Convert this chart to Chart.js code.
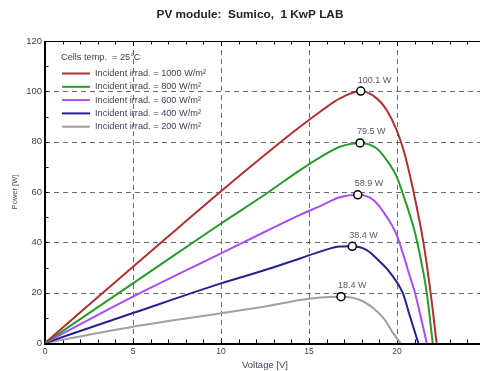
<!DOCTYPE html>
<html>
<head>
<meta charset="utf-8">
<script src="https://cdn.jsdelivr.net/npm/chart.js@4/dist/chart.umd.min.js"></script>
<style>
  html, body { margin: 0; padding: 0; background: #fff; overflow: hidden; }
  #wrap { width: 500px; height: 371px; }
</style>
</head>
<body>
<div id="wrap"><canvas id="chart"></canvas></div>
<script>
// Irradiance levels and their P-V curves (voltage in V, power in W)
const irradiance = [1000, 800, 600, 400, 200];
const lineColors = ["#b03030", "#2a9a2a", "#a64dff", "#23238f", "#a0a0a0"];

const v1000 = [0, 2.5, 5, 7.5, 10, 12.5, 14.49, 15.63, 16.76, 17.94, 18.85, 19.41, 19.98, 20.4, 20.85, 21.5, 21.91, 22.25];
const p1000 = [0, 15.2, 30.3, 45.3, 60.3, 74.8, 85.9, 91.9, 97.2, 100.1, 97.2, 92.6, 84.6, 76, 63, 40, 20, 0];

const v800 = [0, 5, 10, 12.5, 14.49, 15.63, 16.76, 17.9, 18.85, 19.41, 19.98, 20.3, 20.93, 21.15, 21.69, 22.03];
const p800 = [0, 23.7, 47.5, 59, 68.7, 73.8, 78, 79.5, 77.3, 72.7, 66.1, 60, 46.2, 40, 20, 0];

const v600 = [0, 5, 10, 12.5, 14.49, 15.63, 16.76, 17.77, 18.66, 19.41, 19.98, 20.74, 21.02, 21.69];
const p600 = [0, 18.4, 35.6, 44.2, 50.9, 54.4, 57.9, 58.9, 56.8, 50.2, 43, 26.3, 20, 0];

const v400 = [0, 5, 10, 12.5, 14.49, 15.63, 16.76, 17.46, 18.28, 19.03, 19.6, 20.32, 20.74, 21.21];
const p400 = [0, 11.9, 23.7, 29, 33.6, 36.3, 38.3, 38.4, 36.9, 32.3, 28, 20, 10.5, 0];

const v200 = [0, 5, 10, 12.5, 14.49, 15.63, 16.82, 17.9, 18.66, 19.32, 19.79, 20.2];
const p200 = [0, 6.5, 11.8, 14.5, 17.1, 18.1, 18.4, 17.1, 13.8, 9.1, 3.8, 0];

// maximum power points
const mppV = [17.94, 17.9, 17.77, 17.46, 16.82];
const mppP = [100.1, 79.5, 58.9, 38.4, 18.4];

const xTicksStep = 5, yTicksStep = 20;

const curves = [[v1000, p1000], [v800, p800], [v600, p600], [v400, p400], [v200, p200]];

function toPoints(vs, ps) {
  return vs.map((v, i) => ({ x: v, y: ps[i] }));
}

const datasets = curves.map((c, i) => ({
  label: `Incident irrad. = ${irradiance[i]} W/m²`,
  data: toPoints(c[0], c[1]),
  borderColor: lineColors[i],
  borderWidth: 2,
  pointRadius: 0,
  fill: false,
  cubicInterpolationMode: "monotone"
}));

datasets.push({
  label: "mpp",
  type: "scatter",
  data: toPoints(mppV, mppP),
  pointRadius: 4,
  pointBackgroundColor: "#fff",
  pointBorderColor: "#000",
  pointBorderWidth: 1.5,
  showLine: false,
  order: -1
});

const FONT = "'Liberation Sans', Arial, sans-serif";

const frame = {
  id: "frame",
  beforeDatasetsDraw(chart) {
    const { ctx, chartArea: a, scales: { x, y } } = chart;
    ctx.save();
    // dashed grid
    ctx.strokeStyle = "#6a6a6a";
    ctx.lineWidth = 1;
    ctx.setLineDash([5, 4]);
    for (let v = xTicksStep; v < x.max; v += xTicksStep) {
      const px = Math.round(x.getPixelForValue(v)) + 0.5;
      ctx.beginPath(); ctx.moveTo(px, a.top); ctx.lineTo(px, a.bottom); ctx.stroke();
    }
    for (let v = yTicksStep; v < y.max; v += yTicksStep) {
      const py = Math.round(y.getPixelForValue(v)) + 0.5;
      ctx.beginPath(); ctx.moveTo(a.left, py); ctx.lineTo(a.right, py); ctx.stroke();
    }
    ctx.setLineDash([]);
    // minor ticks
    ctx.strokeStyle = "#000";
    for (let v = 1; v < x.max; v++) {
      const px = Math.round(x.getPixelForValue(v)) + 0.5;
      const len = v % 5 === 0 ? 5 : 3.5;
      ctx.beginPath(); ctx.moveTo(px, a.bottom); ctx.lineTo(px, a.bottom - len); ctx.stroke();
      ctx.beginPath(); ctx.moveTo(px, a.top); ctx.lineTo(px, a.top + len); ctx.stroke();
    }
    for (let v = 10; v < y.max; v += 10) {
      const py = Math.round(y.getPixelForValue(v)) + 0.5;
      ctx.beginPath(); ctx.moveTo(a.left, py); ctx.lineTo(a.left + 3.5, py); ctx.stroke();
    }
    // frame
    ctx.lineWidth = 1;
    ctx.beginPath(); ctx.moveTo(a.left, a.top + 0.5); ctx.lineTo(a.right, a.top + 0.5); ctx.stroke();
    ctx.beginPath(); ctx.moveTo(a.right - 0.5, a.top); ctx.lineTo(a.right - 0.5, a.bottom); ctx.stroke();
    ctx.lineWidth = 2;
    ctx.beginPath(); ctx.moveTo(a.left, a.top); ctx.lineTo(a.left, a.bottom + 1); ctx.lineTo(a.right, a.bottom + 1); ctx.stroke();
    ctx.restore();
  },
  afterDatasetsDraw(chart) {
    const { ctx, scales: { x, y } } = chart;
    ctx.save();
    // power labels above the maximum power points
    ctx.font = `9px ${FONT}`;
    ctx.fillStyle = "#555a66";
    ctx.textBaseline = "middle";
    ctx.textAlign = "left";
    mppV.forEach((v, i) => {
      const px = x.getPixelForValue(v), py = y.getPixelForValue(mppP[i]);
      ctx.fillText(`${mppP[i].toFixed(1)} W`, px - 3, py - 11);
    });
    // legend
    ctx.fillStyle = "#3a3f55";
    ctx.font = `9.2px ${FONT}`;
    ctx.fillText("Cells temp.  = 25°C", 61, 57);
    chart.data.datasets.slice(0, irradiance.length).forEach((ds, i) => {
      const ly = 73.5 + i * 13.3;
      ctx.strokeStyle = ds.borderColor;
      ctx.lineWidth = 2;
      ctx.beginPath(); ctx.moveTo(62, ly); ctx.lineTo(90, ly); ctx.stroke();
      ctx.fillText(ds.label, 95, ly);
    });
    ctx.restore();
  },
  afterDraw(chart) {
    const { ctx } = chart;
    ctx.save();
    ctx.font = `bold 11.8px ${FONT}`;
    ctx.fillStyle = "#222";
    ctx.textAlign = "center";
    ctx.textBaseline = "middle";
    ctx.fillText("PV module:  Sumico,  1 KwP LAB", 250, 15);
    ctx.restore();
  }
};

new Chart(document.getElementById("chart"), {
  type: "line",
  data: { datasets },
  plugins: [frame],
  options: {
    responsive: true,
    maintainAspectRatio: false,
    animation: false,
    layout: { padding: { top: 41, right: 15 } },
    plugins: {
      legend: { display: false },
      title: { display: false },
      tooltip: { enabled: false }
    },
    scales: {
      x: {
        type: "linear",
        min: 0,
        max: 25,
        ticks: {
          stepSize: xTicksStep,
          padding: 4,
          color: "#3a3f55",
          font: { size: 8.5, family: FONT }
        },
        grid: { display: false, drawTicks: false },
        border: { display: false },
        title: {
          display: true,
          text: "Voltage [V]",
          color: "#3a3f55",
          padding: { top: 0, bottom: 0 },
          font: { size: 9.5, family: FONT }
        },
        afterFit: (s) => { s.height = 28; }
      },
      y: {
        min: 0,
        max: 120,
        ticks: {
          stepSize: yTicksStep,
          padding: 3,
          color: "#3a3f55",
          font: { size: 9.5, family: FONT }
        },
        grid: { display: false, drawTicks: false },
        border: { display: false },
        title: {
          display: true,
          text: "Power [W]",
          color: "#5a4450",
          padding: { top: 10, bottom: 0 },
          font: { size: 7.5, family: FONT }
        },
        afterFit: (s) => { s.width = 45; }
      }
    }
  }
});
</script>
</body>
</html>
